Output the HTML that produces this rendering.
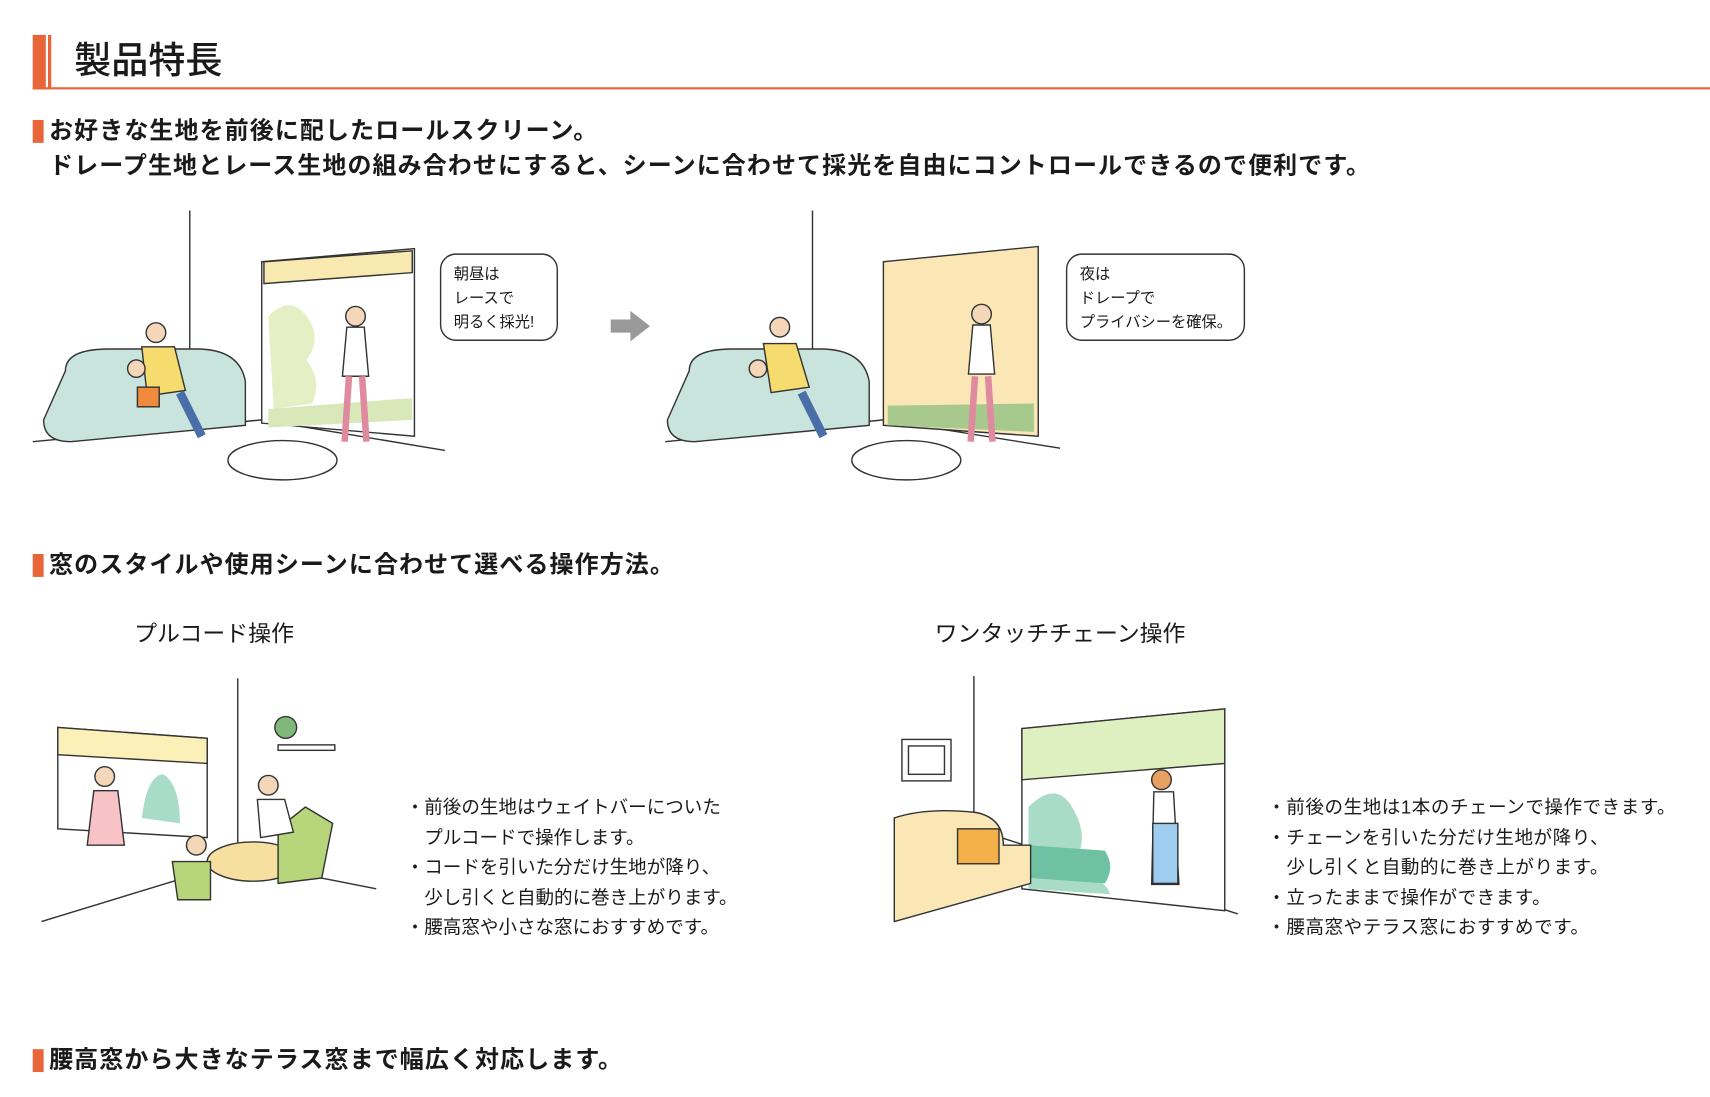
<!DOCTYPE html>
<html><head><meta charset="utf-8"><style>
html,body{margin:0;padding:0;background:#fff;width:1710px;height:1097px;overflow:hidden}
#w{position:absolute;left:0;top:0;width:1568px;height:1006px;transform:scale(1.0906);transform-origin:0 0;font-family:"Liberation Sans","Noto Sans CJK JP",sans-serif;color:#1a1a1a}
.a{position:absolute;white-space:nowrap}
.h{font-size:22px;font-weight:bold;line-height:32px;letter-spacing:1px}
.sq{position:absolute;width:10px;height:21px;background:#e8653a}
.b{font-size:17px;line-height:27.5px}
</style></head><body><div id="w">
<div class="a" style="left:30px;top:32px;width:12px;height:50px;background:#e8653a"></div>
<div class="a" style="left:44px;top:32px;width:3px;height:50px;background:#e8653a"></div>
<div class="a" style="left:30px;top:80px;width:1538px;height:2px;background:#e8653a"></div>
<div class="a" style="left:68px;top:34px;font-size:34px;line-height:44px;font-weight:500">製品特長</div>

<div class="sq" style="left:30px;top:110px"></div>
<div class="a h" style="left:45px;top:104px">お好きな生地を前後に配したロールスクリーン。<br>ドレープ生地とレース生地の組み合わせにすると、シーンに合わせて採光を自由にコントロールできるので便利です。</div>

<svg class="a" style="left:0;top:180px" width="1200" height="290" viewBox="0 180 1200 290" fill="none" stroke="#333" stroke-width="1.3">
<line x1="174" y1="193" x2="174" y2="330"/><line x1="30" y1="405" x2="240" y2="385"/><line x1="240" y1="385" x2="408" y2="413"/>
<polygon points="240,240 380,228 380,400 240,388" fill="#fff"/>
<polygon points="242,240 378,230 378,250 242,260" fill="#f8e9b0"/>
<path d="M246,290 q20,-20 35,0 q15,20 0,40 q15,20 5,40 l-35,5 z" fill="#e4efc4" stroke="none"/>
<polygon points="246,375 378,365 378,385 246,392" fill="#d8e8b8" stroke="none"/>
<path d="M60,340 q0,-20 40,-20 h80 q40,0 45,30 v40 l-160,15 q-25,0 -25,-20z" fill="#c9e4dc"/>
<ellipse cx="259" cy="422" rx="50" ry="18" fill="#fff"/>
<circle cx="143" cy="305" r="9" fill="#f4d7b8"/><path d="M130,318 l30,0 l10,40 l-35,5z" fill="#f6dc6e"/>
<path d="M165,360 l20,40" stroke="#4a6fa8" stroke-width="8"/>
<circle cx="125" cy="338" r="8" fill="#f4d7b8"/><rect x="126" y="355" width="20" height="18" fill="#f08a3c"/>
<circle cx="326" cy="290" r="9" fill="#f4d7b8"/><path d="M318,300 l16,0 l4,45 l-24,0z" fill="#fff"/>
<path d="M320,345 l-4,60 M332,345 l4,60" stroke="#e08aa0" stroke-width="6"/>
<rect x="404" y="233" width="107" height="79" rx="14" fill="#fff"/>
<polygon points="560,293 578,293 578,285 596,299 578,313 578,305 560,305" fill="#999" stroke="none"/>
<line x1="745" y1="193" x2="745" y2="330"/><line x1="610" y1="405" x2="810" y2="385"/><line x1="810" y1="385" x2="972" y2="411"/>
<polygon points="810,240 952,226 952,400 810,390" fill="#fbe7b6"/>
<polygon points="814,372 948,370 948,396 814,390" fill="#a7c98e" stroke="none"/>
<path d="M632,340 q0,-20 40,-20 h80 q40,0 45,30 v40 l-160,15 q-25,0 -25,-20z" fill="#c9e4dc"/>
<ellipse cx="831" cy="422" rx="50" ry="18" fill="#fff"/>
<circle cx="715" cy="300" r="9" fill="#f4d7b8"/><path d="M700,315 l30,0 l12,40 l-35,5z" fill="#f6dc6e"/>
<path d="M735,360 l20,40" stroke="#4a6fa8" stroke-width="8"/>
<circle cx="695" cy="338" r="8" fill="#f4d7b8"/>
<circle cx="900" cy="288" r="9" fill="#f4d7b8"/><path d="M892,298 l16,0 l4,45 l-24,0z" fill="#fff"/>
<path d="M894,345 l-4,60 M906,345 l4,60" stroke="#e08aa0" stroke-width="6"/>
<rect x="978" y="233" width="163" height="79" rx="14" fill="#fff"/>
</svg>
<div class="a" style="left:416px;top:240px;font-size:14px;line-height:22px">朝昼は<br>レースで<br>明るく採光!</div>
<div class="a" style="left:990px;top:240px;font-size:14px;line-height:22px">夜は<br>ドレープで<br>プライバシーを確保。</div>

<div class="sq" style="left:30px;top:508px"></div>
<div class="a h" style="left:45px;top:502px">窓のスタイルや使用シーンに合わせて選べる操作方法。</div>
<div class="a" style="left:123px;top:568px;font-size:21px;line-height:28px">プルコード操作</div>
<div class="a" style="left:857px;top:568px;font-size:21px;line-height:28px">ワンタッチチェーン操作</div>

<svg class="a" style="left:0;top:610px" width="1200" height="260" viewBox="0 610 1200 260" fill="none" stroke="#333" stroke-width="1.3">
<line x1="218" y1="622" x2="218" y2="790"/><line x1="38" y1="845" x2="218" y2="790"/><line x1="218" y1="790" x2="345" y2="815"/>
<polygon points="53,667 190,677 190,768 53,760" fill="#fff"/>
<polygon points="53,667 190,677 190,700 53,692" fill="#faf0b8"/>
<path d="M130,750 q5,-40 20,-40 q15,10 15,45z" fill="#a9dcc8" stroke="none"/>
<rect x="255" y="683" width="52" height="5" fill="#fff"/><circle cx="262" cy="667" r="10" fill="#7fb87a"/>
<circle cx="96" cy="712" r="9" fill="#f4d7b8"/><path d="M86,725 l22,0 l6,50 l-34,0z" fill="#f7c3c6"/>
<ellipse cx="232" cy="790" rx="42" ry="18" fill="#f7dfa0"/>
<path d="M158,790 l35,0 l0,35 l-30,0z M255,760 l25,-20 l25,15 l-10,50 l-40,5z" fill="#b7d67c"/>
<circle cx="246" cy="720" r="9" fill="#f4d7b8"/><path d="M236,733 l25,0 l8,30 l-30,5z" fill="#fff"/>
<circle cx="180" cy="775" r="9" fill="#f4d7b8"/>
<line x1="893" y1="620" x2="893" y2="760"/><line x1="893" y1="760" x2="1135" y2="838"/>
<rect x="827" y="678" width="45" height="38" fill="#fff"/><rect x="833" y="684" width="33" height="26"/>
<polygon points="937,668 1123,650 1123,835 937,815" fill="#fff"/>
<polygon points="937,668 1123,650 1123,700 937,715" fill="#dff0c0"/>
<path d="M943,740 q25,-25 40,0 q15,25 5,45 l5,20 q20,0 25,15 l-75,-5 z" fill="#a9dcc8" stroke="none"/>
<path d="M943,775 l70,5 q10,15 0,30 l-70,-5z" fill="#6fc1a3" stroke="none"/>
<path d="M820,750 q30,-10 75,-5 q25,5 25,30 l25,0 v35 l-125,35z" fill="#fbe7b6"/>
<rect x="878" y="760" width="38" height="32" fill="#f4b14a"/>
<circle cx="1065" cy="715" r="9" fill="#e8a060"/><path d="M1058,726 l18,0 l5,85 l-25,0z" fill="#fff"/>
<rect x="1057" y="755" width="23" height="55" fill="#9fcdef"/>
</svg>

<div class="a b" style="left:372px;top:727px">・前後の生地はウェイトバーについた<br>　プルコードで操作します。<br>・コードを引いた分だけ生地が降り、<br>　少し引くと自動的に巻き上がります。<br>・腰高窓や小さな窓におすすめです。</div>
<div class="a b" style="left:1162px;top:727px;letter-spacing:0.5px">・前後の生地は1本のチェーンで操作できます。<br>・チェーンを引いた分だけ生地が降り、<br>　少し引くと自動的に巻き上がります。<br>・立ったままで操作ができます。<br>・腰高窓やテラス窓におすすめです。</div>

<div class="sq" style="left:30px;top:962px"></div>
<div class="a h" style="left:45px;top:956px">腰高窓から大きなテラス窓まで幅広く対応します。</div>
</div></body></html>
